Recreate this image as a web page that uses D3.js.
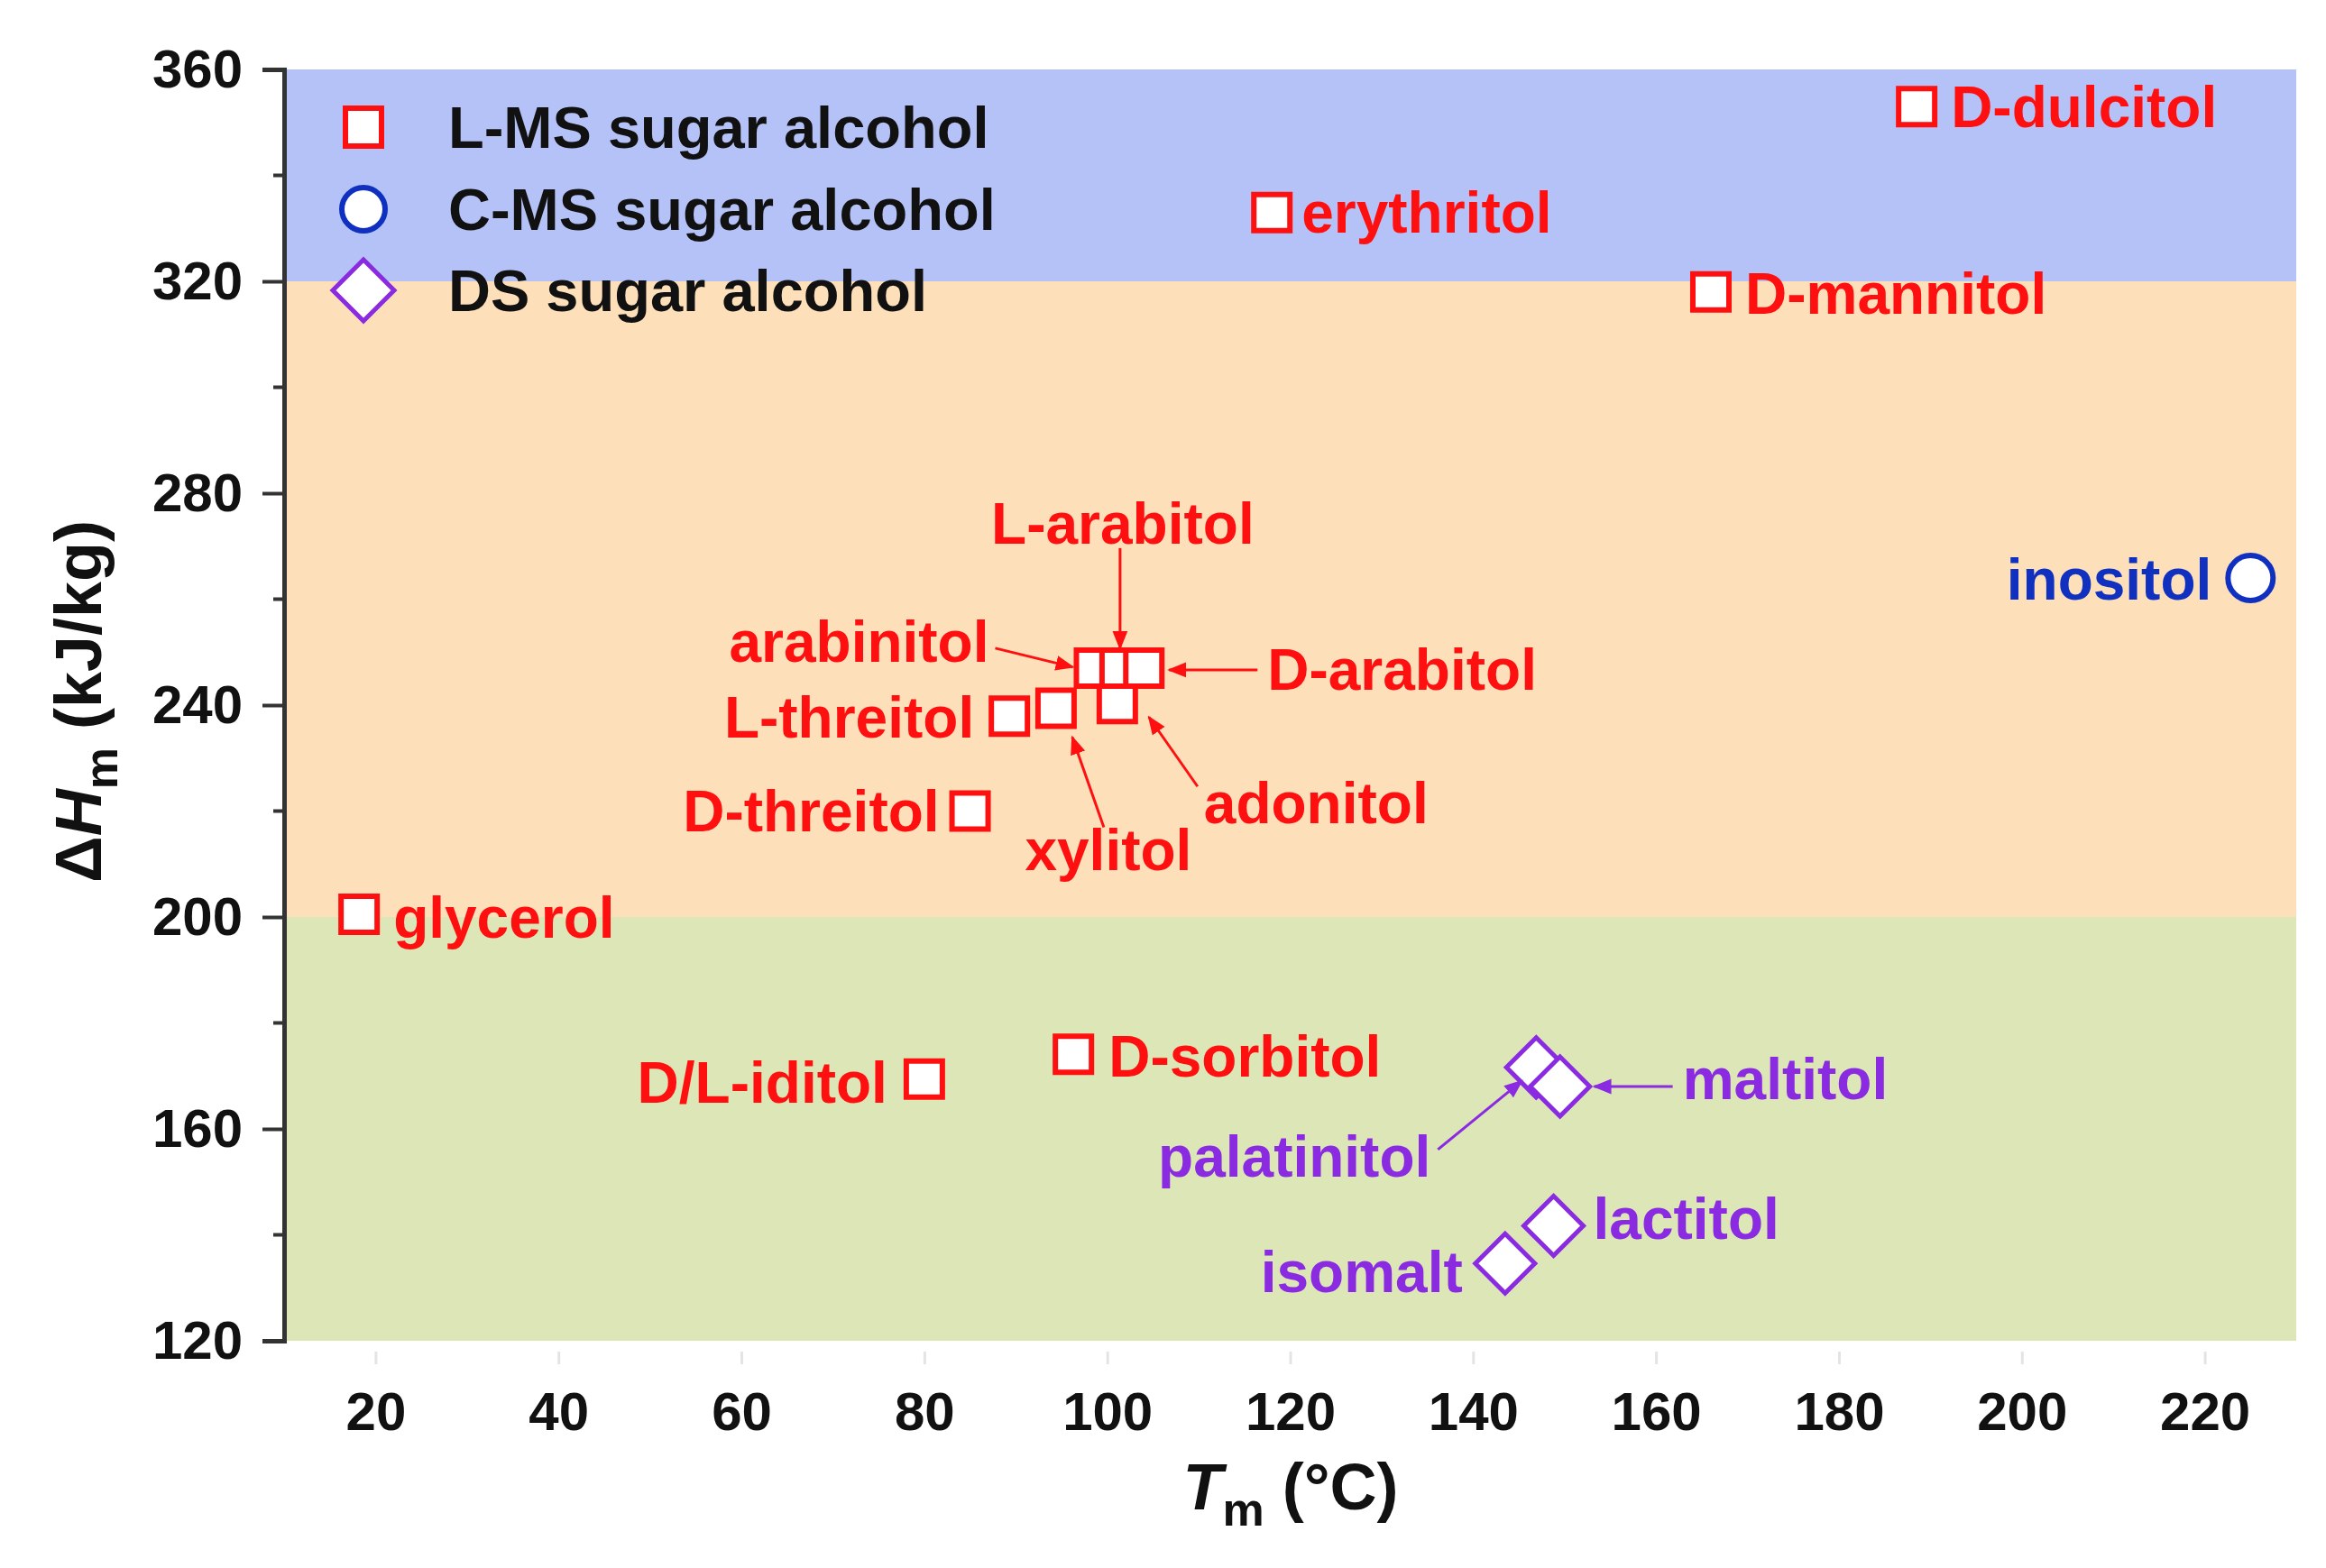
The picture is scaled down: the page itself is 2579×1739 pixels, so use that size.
<!DOCTYPE html>
<html>
<head>
<meta charset="utf-8">
<script src="https://cdn.jsdelivr.net/npm/d3@7"></script>
<style>
  html, body { margin: 0; padding: 0; background: #ffffff; }
  svg { display: block; }
  text { font-family: "Liberation Sans", Arial, sans-serif; font-weight: bold; }
</style>
</head>
<body>
<svg id="chart" width="2579" height="1739"></svg>
<script>
// ---------------- data ----------------
const lmsNames = ["D-dulcitol","erythritol","D-mannitol","glycerol","D/L-iditol","D-sorbitol","D-threitol","L-threitol","xylitol","adonitol","arabinitol","L-arabitol","D-arabitol"];
const lmsTm    = [188.5, 118.0, 166.0, 18.2, 80.0, 96.3, 85.0, 89.3, 94.4, 101.1, 98.6, 101.4, 104.0];
const lmsDH    = [353.0, 333.0, 318.0, 200.5, 169.4, 174.1, 220.0, 237.9, 239.4, 240.3, 247.0, 247.0, 247.0];

const cmsNames = ["inositol"];
const cmsTm    = [225.0];
const cmsDH    = [264.0];

const dsNames  = ["palatinitol","maltitol","lactitol","isomalt"];
const dsTm     = [146.9, 149.5, 148.8, 143.5];
const dsDH     = [171.6, 168.0, 141.7, 134.6];

const legendLabels = ["L-MS sugar alcohol","C-MS sugar alcohol","DS sugar alcohol"];
const xTicks = [20,40,60,80,100,120,140,160,180,200,220];
const yTicks = [120,160,200,240,280,320,360];
const bandEdges = [120, 200, 320, 360];

// ---------------- layout / style (not data) ----------------
const W = 2579, H = 1739;
const plot = {left: 315, right: 2546, top: 77, bottom: 1487};
const RED = "#ff1010", PURPLE = "#8a2be2", BLUE = "#1030c0";
const bandColors = ["#dce6b7", "#fddfba", "#b5c2f7"];
const fontLabel = 64;

// label placement: offsets in pixels from marker centre
const labelLayout = {
  "D-dulcitol": {a:"start", dx:38, dy:0},
  "erythritol": {a:"start", dx:33, dy:0},
  "D-mannitol": {a:"start", dx:38, dy:2},
  "glycerol":   {a:"start", dx:38, dy:4},
  "D/L-iditol": {a:"end", dx:-41, dy:4},
  "D-sorbitol": {a:"start", dx:39, dy:2},
  "D-threitol": {a:"end", dx:-34, dy:0},
  "L-threitol": {a:"end", dx:-39, dy:1},
  "xylitol":    {a:"middle", dx:58, dy:157, arrow:[53,132, 18,32]},
  "adonitol":   {a:"start", dx:96, dy:110, arrow:[89,92, 35,15]},
  "arabinitol": {a:"end", dx:-117, dy:-29, arrow:[-110,-22, -24,-1]},
  "L-arabitol": {a:"middle", dx:3, dy:-160, arrow:[0,-133, 0,-22]},
  "D-arabitol": {a:"start", dx:137, dy:2, arrow:[126,2, 28,2]},
  "inositol":   {a:"end", dx:-43, dy:2},
  "palatinitol":{a:"end", dx:-117, dy:99, arrow:[-109,91, -16,15]},
  "maltitol":   {a:"start", dx:136, dy:-8, arrow:[125,0, 38,0]},
  "lactitol":   {a:"start", dx:44, dy:-8},
  "isomalt":    {a:"end", dx:-47, dy:9}
};

// ---------------- scales ----------------
const x = d3.scaleLinear().domain([10, 230]).range([plot.left, plot.right]);
const y = d3.scaleLinear().domain([120, 360]).range([plot.bottom, plot.top]);

const svg = d3.select("#chart");

const defs = svg.append("defs");
function addArrow(id, color) {
  defs.append("marker").attr("id", id)
    .attr("viewBox", "0 0 10 10").attr("refX", 9).attr("refY", 5)
    .attr("markerWidth", 7).attr("markerHeight", 7)
    .attr("markerUnits", "strokeWidth")
    .attr("orient", "auto")
    .append("path").attr("d", "M0,1 L10,5 L0,9 Z").attr("fill", color);
}
addArrow("arrRed", RED);
addArrow("arrPurple", PURPLE);

// ---------------- background bands ----------------
for (let i = 0; i < bandEdges.length - 1; i++) {
  svg.append("rect")
    .attr("x", plot.left)
    .attr("y", y(bandEdges[i+1]))
    .attr("width", plot.right - plot.left)
    .attr("height", y(bandEdges[i]) - y(bandEdges[i+1]))
    .attr("fill", bandColors[i]);
}

// ---------------- axes ----------------
const yAxis = d3.axisLeft(y).tickValues(yTicks).tickSize(24).tickPadding(22).tickFormat(d3.format("d"));
const gy = svg.append("g").attr("transform", `translate(${plot.left},0)`).call(yAxis);
gy.select(".domain").attr("stroke", "#333").attr("stroke-width", 5);
gy.selectAll(".tick line").attr("stroke", "#333").attr("stroke-width", 4);
gy.selectAll(".tick text").attr("font-size", 60).attr("fill", "#111")
  .style("font-family", '"Liberation Sans", Arial, sans-serif').style("font-weight", "bold");
// minor ticks
const yMinor = d3.range(140, 360, 40);
svg.append("g").selectAll("line").data(yMinor).join("line")
  .attr("x1", plot.left - 12).attr("x2", plot.left)
  .attr("y1", d => y(d)).attr("y2", d => y(d))
  .attr("stroke", "#333").attr("stroke-width", 4);

const xAxis = d3.axisBottom(x).tickValues(xTicks).tickSize(14).tickPadding(30).tickFormat(d3.format("d"));
const gx = svg.append("g").attr("transform", `translate(0,${plot.bottom + 12})`).call(xAxis);
gx.select(".domain").remove();
gx.selectAll(".tick line").attr("stroke", "#e4e4e4").attr("stroke-width", 3);
gx.selectAll(".tick text").attr("font-size", 60).attr("fill", "#111")
  .style("font-family", '"Liberation Sans", Arial, sans-serif').style("font-weight", "bold");

// axis titles
const yt = svg.append("text")
  .attr("transform", `translate(112,${(plot.top + plot.bottom)/2 - 4}) rotate(-90)`)
  .attr("text-anchor", "middle").attr("font-size", 72).attr("fill", "#111");
yt.append("tspan").text("\u0394");
yt.append("tspan").attr("font-style", "italic").text("H");
yt.append("tspan").attr("font-size", 52).attr("dy", 18).text("m");
yt.append("tspan").attr("dy", -18).text(" (kJ/kg)");

const xt = svg.append("text")
  .attr("x", 1431).attr("y", 1674)
  .attr("text-anchor", "middle").attr("font-size", 72).attr("fill", "#111");
xt.append("tspan").attr("font-style", "italic").text("T");
xt.append("tspan").attr("font-size", 52).attr("dy", 18).text("m");
xt.append("tspan").attr("dy", -18).text(" (\u00b0C)");

// ---------------- markers ----------------
const sq = 40, circ = 25, dia = 33;
function squarePath(cx, cy) { return `M${cx-sq/2},${cy-sq/2}h${sq}v${sq}h${-sq}Z`; }
function diamondPath(cx, cy) { return `M${cx},${cy-dia}L${cx+dia},${cy}L${cx},${cy+dia}L${cx-dia},${cy}Z`; }

const lms = lmsNames.map((n, i) => ({name: n, tm: lmsTm[i], dh: lmsDH[i]}));
const cms = cmsNames.map((n, i) => ({name: n, tm: cmsTm[i], dh: cmsDH[i]}));
const ds  = dsNames.map((n, i) => ({name: n, tm: dsTm[i], dh: dsDH[i]}));

svg.append("g").selectAll("path").data(lms).join("path")
  .attr("d", d => squarePath(x(d.tm), y(d.dh)))
  .attr("fill", "#ffffff").attr("stroke", RED).attr("stroke-width", 6);

svg.append("g").selectAll("circle").data(cms).join("circle")
  .attr("cx", d => x(d.tm)).attr("cy", d => y(d.dh)).attr("r", circ)
  .attr("fill", "#ffffff").attr("stroke", BLUE).attr("stroke-width", 6);

svg.append("g").selectAll("path").data(ds).join("path")
  .attr("d", d => diamondPath(x(d.tm), y(d.dh)))
  .attr("fill", "#ffffff").attr("stroke", PURPLE).attr("stroke-width", 5);

// ---------------- labels ----------------
function drawLabels(arr, color, markerId) {
  const g = svg.append("g");
  arr.forEach(d => {
    const L = labelLayout[d.name];
    const px = x(d.tm), py = y(d.dh);
    if (L.arrow) {
      g.append("line")
        .attr("x1", px + L.arrow[0]).attr("y1", py + L.arrow[1])
        .attr("x2", px + L.arrow[2]).attr("y2", py + L.arrow[3])
        .attr("stroke", color).attr("stroke-width", 3)
        .attr("marker-end", `url(#${markerId})`);
    }
    g.append("text")
      .attr("x", px + L.dx).attr("y", py + L.dy)
      .attr("dy", "0.35em")
      .attr("text-anchor", L.a)
      .attr("font-size", fontLabel)
      .attr("fill", color)
      .text(d.name);
  });
}
drawLabels(lms, RED, "arrRed");
drawLabels(cms, BLUE, "arrRed");
drawLabels(ds, PURPLE, "arrPurple");

// ---------------- legend ----------------
const legX = 403, legY = [141, 232, 322], legTextX = 497;
const lg = svg.append("g");
lg.append("rect").attr("x", legX - 20).attr("y", legY[0] - 21).attr("width", 40).attr("height", 42)
  .attr("fill", "#fff").attr("stroke", RED).attr("stroke-width", 6);
lg.append("circle").attr("cx", legX).attr("cy", legY[1]).attr("r", 24)
  .attr("fill", "#fff").attr("stroke", BLUE).attr("stroke-width", 6);
lg.append("path").attr("d", `M${legX},${legY[2]-34}L${legX+34},${legY[2]}L${legX},${legY[2]+34}L${legX-34},${legY[2]}Z`)
  .attr("fill", "#fff").attr("stroke", PURPLE).attr("stroke-width", 5);
legendLabels.forEach((t, i) => {
  lg.append("text").attr("x", legTextX).attr("y", legY[i]).attr("dy", "0.35em")
    .attr("font-size", 65).attr("fill", "#111").text(t);
});
</script>
</body>
</html>
